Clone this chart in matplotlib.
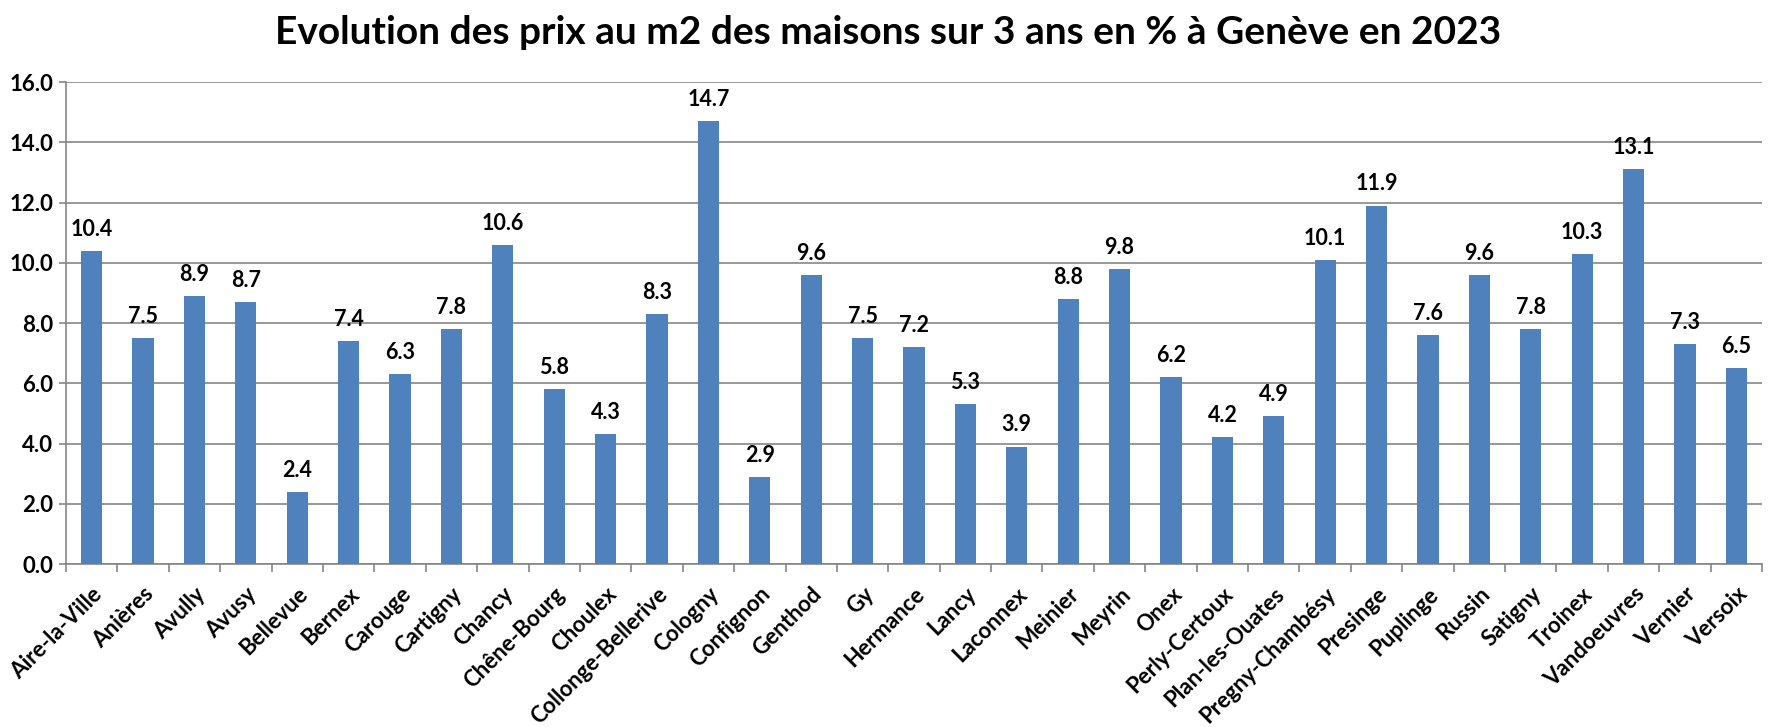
import matplotlib
matplotlib.use("Agg")
import matplotlib.pyplot as plt
import numpy as np

plt.rcParams['font.family'] = ['Lato', 'DejaVu Sans']

communes = ["Aire-la-Ville", "Anières", "Avully", "Avusy", "Bellevue", "Bernex", "Carouge",
            "Cartigny", "Chancy", "Chêne-Bourg", "Choulex", "Collonge-Bellerive", "Cologny",
            "Confignon", "Genthod", "Gy", "Hermance", "Lancy", "Laconnex", "Meinier", "Meyrin",
            "Onex", "Perly-Certoux", "Plan-les-Ouates", "Pregny-Chambésy", "Presinge",
            "Puplinge", "Russin", "Satigny", "Troinex", "Vandoeuvres", "Vernier", "Versoix"]
evolution = [10.4, 7.5, 8.9, 8.7, 2.4, 7.4, 6.3, 7.8, 10.6, 5.8, 4.3, 8.3, 14.7, 2.9, 9.6,
             7.5, 7.2, 5.3, 3.9, 8.8, 9.8, 6.2, 4.2, 4.9, 10.1, 11.9, 7.6, 9.6, 7.8, 10.3,
             13.1, 7.3, 6.5]
y_ticks = [0, 2, 4, 6, 8, 10, 12, 14, 16]

grey = "#868686"
fig = plt.figure(figsize=(17.77, 7.27), dpi=100)
ax = fig.add_axes([0.0371, 0.2242, 0.9545, 0.663])

x = np.arange(len(communes))
bars = ax.bar(x, evolution, width=0.41, color="#4F81BD", zorder=3)

for xi, v in zip(x, evolution):
    ax.annotate(f"{v:.1f}", (xi, v), xytext=(0, 8), textcoords="offset points",
                ha="center", va="bottom", fontsize=15.5, fontweight="bold")

ax.set_xlim(-0.5, len(communes) - 0.5)
ax.set_ylim(0, 16)
ax.set_yticks(y_ticks)
ax.set_yticklabels([f"{t:.1f}" for t in y_ticks], fontsize=16, fontweight="bold")
ax.yaxis.grid(True, color=grey, linewidth=1.2, zorder=0)
ax.tick_params(axis="y", length=5, color=grey, width=1.2, pad=4)

ax.set_xticks(x)
ax.set_xticklabels(communes, rotation=45, ha="right", rotation_mode="anchor",
                   fontsize=16, fontweight="bold")
ax.tick_params(axis="x", which="major", length=0, pad=14)
ax.set_xticks(np.arange(-0.5, len(communes), 1), minor=True)
ax.tick_params(axis="x", which="minor", length=6, color=grey, width=1.2)

for s in ["top", "right"]:
    ax.spines[s].set_visible(False)
for s in ["left", "bottom"]:
    ax.spines[s].set_color(grey)
    ax.spines[s].set_linewidth(1.2)

fig.text(0.5, 0.955, "Evolution des prix au m2 des maisons sur 3 ans en % à Genève en 2023",
         ha="center", va="center", fontsize=28, fontweight="bold")

fig.savefig("out.png", dpi=100)
